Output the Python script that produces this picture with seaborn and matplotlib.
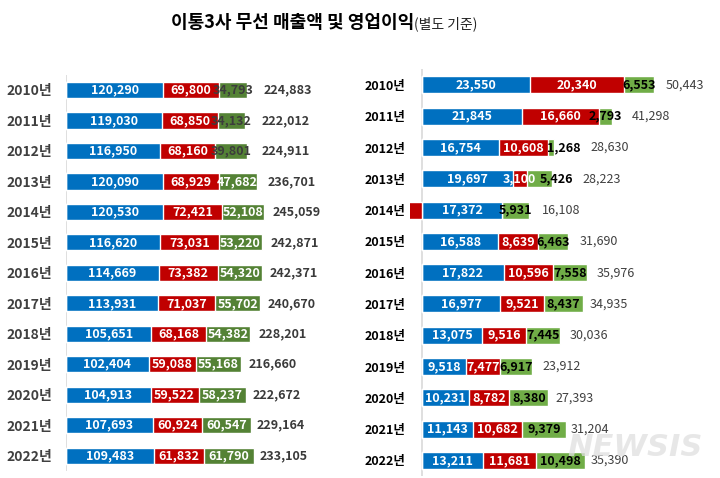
import numpy as np
import matplotlib
matplotlib.use("Agg")
import matplotlib.pyplot as plt
import seaborn as sns

# 연도
years = ["2010년", "2011년", "2012년", "2013년", "2014년", "2015년", "2016년",
         "2017년", "2018년", "2019년", "2020년", "2021년", "2022년"]

# 무선 매출액 (SKT / KT / LGU+)
sales_skt = [120290, 119030, 116950, 120090, 120530, 116620, 114669,
             113931, 105651, 102404, 104913, 107693, 109483]
sales_kt = [69800, 68850, 68160, 68929, 72421, 73031, 73382,
            71037, 68168, 59088, 59522, 60924, 61832]
sales_lgu = [34793, 34132, 39801, 47682, 52108, 53220, 54320,
             55702, 54382, 55168, 58237, 60547, 61790]
sales_total = [224883, 222012, 224911, 236701, 245059, 242871, 242371,
               240670, 228201, 216660, 222672, 229164, 233105]

# 영업이익 (SKT / KT / LGU+)
op_skt = [23550, 21845, 16754, 19697, 17372, 16588, 17822,
          16977, 13075, 9518, 10231, 11143, 13211]
op_kt = [20340, 16660, 10608, 3100, -7195, 8639, 10596,
         9521, 9516, 7477, 8782, 10682, 11681]
op_lgu = [6553, 2793, 1268, 5426, 5931, 6463, 7558,
          8437, 7445, 6917, 8380, 9379, 10498]
op_total = [50443, 41298, 28630, 28223, 16108, 31690, 35976,
            34935, 30036, 23912, 27393, 31204, 35390]

BLUE = "#0070C0"
RED = "#C00000"

sns.set_style("white")
plt.rcParams["font.family"] = ["Noto Sans CJK KR", "DejaVu Sans"]

W, H = 720, 478
fig = plt.figure(figsize=(W / 100, H / 100), dpi=100)

axL = fig.add_axes([66 / W, 1 - 471 / H, 284 / W, (471 - 74.75) / H])
axR = fig.add_axes([410 / W, 1 - 476 / H, 305 / W, (476 - 69.3) / H])

label_pairs = []


def draw_panel(ax, blue, red, green, totals, green_col, green_txt, year_style, total_style, bh):
    blue = np.array(blue)
    red = np.array(red)
    green = np.array(green)
    red_end = blue + np.clip(red, 0, None)
    green_end = red_end + green
    neg = np.clip(red, None, 0)

    # stacked bars drawn as overlapping cumulative bars
    sns.barplot(x=green_end, y=years, orient="h", color=green_col, saturation=1,
                width=bh, errorbar=None, ax=ax)
    sns.barplot(x=red_end, y=years, orient="h", color=RED, saturation=1,
                width=bh, errorbar=None, ax=ax)
    sns.barplot(x=blue, y=years, orient="h", color=BLUE, saturation=1,
                width=bh, errorbar=None, ax=ax)
    sns.barplot(x=neg, y=years, orient="h", color=RED, saturation=1,
                width=bh, errorbar=None, ax=ax)

    for i in range(len(years)):
        ax.text(blue[i] / 2, i, f"{blue[i]:,}", ha="center", va="center",
                color="white", fontsize=9, fontweight="bold")
        rt = None
        if red[i] > 0:
            rt = ax.text(blue[i] + red[i] / 2, i, f"{red[i]:,}", ha="center", va="center",
                         color="white", fontsize=9, fontweight="bold")
        gt = ax.text(red_end[i] + green[i] / 2, i, f"{green[i]:,}", ha="center",
                     va="center", color=green_txt(green[i]), fontsize=9, fontweight="bold")
        ax.annotate(f"{totals[i]:,}", xy=(1, 0.5), xycoords=gt, xytext=(7, 0),
                    textcoords="offset points", ha="left", va="center", **total_style)
        if rt is not None:
            label_pairs.append((ax, rt, gt))

    ax.set_ylim(len(years) - 0.5, -0.5)
    ax.set_xlabel("")
    ax.set_ylabel("")
    ax.set_xticks([])
    for s in ["top", "right", "bottom", "left"]:
        ax.spines[s].set_visible(False)
    ax.tick_params(axis="y", length=0, pad=year_style.pop("pad"))
    plt.setp(ax.get_yticklabels(), **year_style)


# left: 매출액
axL.set_xlim(0, 352000)
draw_panel(axL, sales_skt, sales_kt, sales_lgu, sales_total, "#548235",
           lambda v: "#3c3c3c" if v < 45000 else "white",
           dict(fontsize=10, fontweight="bold", color="#404040", pad=10),
           dict(fontsize=9, fontweight="bold", color="#3a3a3a"), 0.53)
axL.axvline(0, color="#d9d9d9", lw=1.2, zorder=0)

# right: 영업이익
axR.set_xlim(-2610, 63700)
draw_panel(axR, op_skt, op_kt, op_lgu, op_total, "#70AD47",
           lambda v: "black",
           dict(fontsize=9, fontweight="bold", color="black", pad=3),
           dict(fontsize=9, color="#404040"), 0.54)
axR.axvline(0, color="#d9d9d9", lw=1.2, zorder=0)

# push green labels right where they collide badly with the red label
fig.canvas.draw()
r = fig.canvas.get_renderer()
for ax, rt, gt in label_pairs:
    overlap = rt.get_window_extent(r).x1 - gt.get_window_extent(r).x0
    if overlap > 5:
        x0, y0 = ax.transData.transform(gt.get_position())
        gt.set_position(ax.transData.inverted().transform((x0 + overlap + 3, y0)))

# title
t = fig.text(171 / W, 1 - 22 / H, "이통3사 무선 매출액 및 영업이익", fontsize=13,
             fontweight="bold", ha="left", va="center", color="black")
axR.annotate("(별도 기준)", xy=(1, 0.5), xycoords=t, xytext=(0, -1),
             textcoords="offset points", ha="left", va="center",
             fontsize=10, color="#222222", annotation_clip=False)

# watermark
fig.text(635 / W, 1 - 447 / H, "NEWSIS", fontsize=22, fontweight="bold",
         fontstyle="italic", color="#e0e0e0", alpha=0.75, ha="center", va="center",
         family="DejaVu Sans")

fig.savefig("out.png", dpi=100)
